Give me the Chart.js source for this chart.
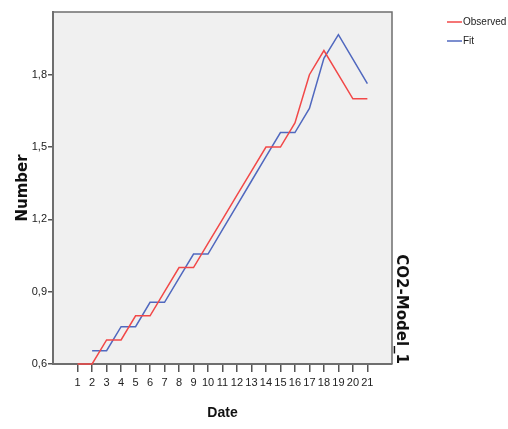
<!DOCTYPE html>
<html lang="en">
<head>
    <meta charset="UTF-8">
    <title>CO2-Model_1</title>
    <script src="https://cdn.jsdelivr.net/npm/chart.js"></script>
    <style>
        body {
            margin: 0;
            background: #ffffff;
        }
        #chart {
            display: block;
        }
    </style>
</head>
<body>
    <canvas id="chart" width="508" height="429"></canvas>

    <script>
        // data
        const dates = [1, 2, 3, 4, 5, 6, 7, 8, 9, 10, 11, 12, 13, 14, 15, 16, 17, 18, 19, 20, 21];
        const observed = [0.6, 0.6, 0.7, 0.7, 0.8, 0.8, 0.9, 1.0, 1.0, 1.1, 1.2, 1.3, 1.4, 1.5, 1.5, 1.6, 1.8, 1.9, 1.8, 1.7, 1.7];
        const fit = [null, 0.655, 0.655, 0.755, 0.755, 0.856, 0.856, 0.956, 1.056, 1.056, 1.157, 1.258, 1.359, 1.46, 1.56, 1.56, 1.66, 1.868, 1.966, 1.865, 1.763];
        const yTicks = [0.6, 0.9, 1.2, 1.5, 1.8];
        const xTicks = dates;

        const plain = "'Liberation Sans', Arial, sans-serif";
        const wide = "'DejaVu Sans', sans-serif";

        // grey plot background + top/right frame
        const plotFrame = {
            id: 'plotFrame',
            beforeDraw(chart) {
                const a = chart.chartArea;
                const ctx = chart.ctx;
                ctx.save();
                ctx.fillStyle = '#f0f0f0';
                ctx.fillRect(a.left, a.top, a.right - a.left, a.bottom - a.top);
                ctx.restore();
            },
            afterDatasetsDraw(chart) {
                const a = chart.chartArea;
                const ctx = chart.ctx;
                ctx.save();
                ctx.strokeStyle = '#6e6e6e';
                ctx.lineWidth = 1.5;
                ctx.beginPath();
                ctx.moveTo(a.left, a.top);
                ctx.lineTo(a.right, a.top);
                ctx.lineTo(a.right, a.bottom);
                ctx.stroke();
                ctx.restore();
            }
        };

        // small legend up in the right corner
        const cornerLegend = {
            id: 'cornerLegend',
            afterDraw(chart) {
                const ctx = chart.ctx;
                ctx.save();
                ctx.font = '10px ' + plain;
                ctx.textBaseline = 'middle';
                ctx.textAlign = 'left';
                chart.data.datasets.forEach((ds, i) => {
                    const y = 22 + i * 19;
                    ctx.strokeStyle = ds.borderColor;
                    ctx.lineWidth = 1.5;
                    ctx.beginPath();
                    ctx.moveTo(447, y);
                    ctx.lineTo(462, y);
                    ctx.stroke();
                    ctx.fillStyle = '#222';
                    ctx.fillText(ds.label, 463, y);
                });
                ctx.restore();
            }
        };

        const ctx = document.getElementById('chart').getContext('2d');
        new Chart(ctx, {
            type: 'line',
            data: {
                datasets: [{
                    label: 'Observed',
                    data: dates.map((d, i) => ({ x: d, y: observed[i] })),
                    borderColor: '#f24848',
                    borderWidth: 1.5,
                    pointRadius: 0,
                    tension: 0,
                    clip: 3,
                    fill: false
                }, {
                    label: 'Fit',
                    data: dates.map((d, i) => ({ x: d, y: fit[i] })),
                    borderColor: '#5068bf',
                    borderWidth: 1.5,
                    pointRadius: 0,
                    tension: 0,
                    clip: 3,
                    fill: false
                }]
            },
            options: {
                responsive: false,
                animation: false,
                layout: {
                    padding: { left: 0, top: 12, right: 93, bottom: 0 }
                },
                scales: {
                    x: {
                        type: 'linear',
                        min: -0.7,
                        max: 22.7,
                        afterBuildTicks: (scale) => {
                            scale.ticks = xTicks.map(v => ({ value: v }));
                        },
                        afterFit: (scale) => { scale.height = 65; },
                        border: { color: '#6e6e6e', width: 2 },
                        grid: {
                            drawOnChartArea: false,
                            color: '#555',
                            tickLength: 8,
                            lineWidth: 1.5
                        },
                        ticks: {
                            autoSkip: false,
                            maxRotation: 0,
                            padding: 4,
                            color: '#222',
                            font: { family: plain, size: 11 },
                            callback: (v) => String(v)
                        },
                        title: {
                            display: true,
                            text: 'Date',
                            color: '#111',
                            font: { family: plain, size: 14, weight: 'bold' },
                            padding: { top: 0, bottom: 7 }
                        }
                    },
                    y: {
                        type: 'linear',
                        min: 0.6,
                        max: 2.06,
                        afterBuildTicks: (scale) => {
                            scale.ticks = yTicks.map(v => ({ value: v }));
                        },
                        afterFit: (scale) => { scale.width = 53; },
                        border: { color: '#6e6e6e', width: 2 },
                        grid: {
                            drawOnChartArea: false,
                            color: '#555',
                            tickLength: 5,
                            lineWidth: 1.5
                        },
                        ticks: {
                            padding: 1,
                            color: '#222',
                            font: { family: plain, size: 11 },
                            callback: (v) => v.toFixed(1).replace('.', ',')
                        },
                        title: {
                            display: true,
                            text: 'Number',
                            color: '#111',
                            font: { family: wide, size: 15, weight: 'bold' },
                            padding: { top: 14, bottom: 0 }
                        }
                    },
                    y2: {
                        position: 'right',
                        afterFit: (scale) => { scale.width = 23; },
                        border: { display: false },
                        grid: { display: false, drawTicks: false },
                        ticks: { display: false },
                        title: {
                            display: true,
                            text: 'CO2-Model_1',
                            align: 'start',
                            color: '#111',
                            font: { family: wide, size: 15, weight: 'bold' },
                            padding: { top: 5, bottom: 0 }
                        }
                    }
                },
                plugins: {
                    legend: { display: false },
                    tooltip: { enabled: false }
                }
            },
            plugins: [plotFrame, cornerLegend]
        });
    </script>
</body>
</html>
